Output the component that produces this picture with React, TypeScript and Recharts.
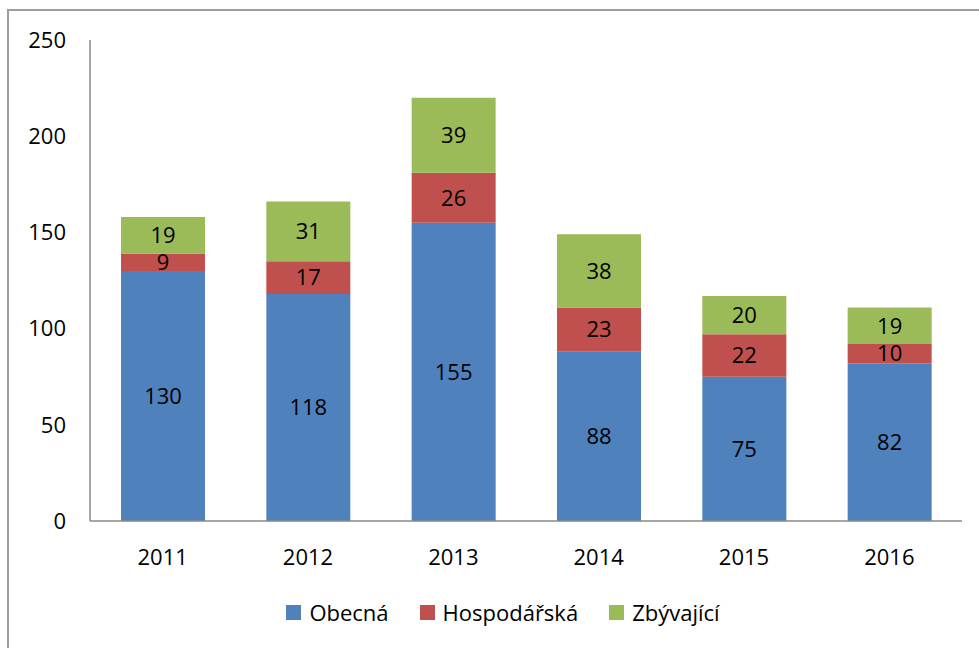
import { BarChart, Bar, XAxis, YAxis, Legend, LabelList } from "recharts";

const years = ["2011", "2012", "2013", "2014", "2015", "2016"];
const obecna = [130, 118, 155, 88, 75, 82];
const hospodarska = [9, 17, 26, 23, 22, 10];
const zbyvajici = [19, 31, 39, 38, 20, 19];
const yTicks = [0, 50, 100, 150, 200, 250];

const series = [
  { key: "obecna", name: "Obecná", color: "#4F81BD" },
  { key: "hospodarska", name: "Hospodářská", color: "#C0504D" },
  { key: "zbyvajici", name: "Zbývající", color: "#9BBB59" },
];

const data = years.map((year, i) => ({
  year,
  obecna: obecna[i],
  hospodarska: hospodarska[i],
  zbyvajici: zbyvajici[i],
}));

const FONT = "'Open Sans', sans-serif";

function LegendContent() {
  return (
    <div
      style={{
        display: "flex",
        justifyContent: "center",
        alignItems: "center",
        paddingLeft: 44,
        fontFamily: FONT,
        fontSize: 22,
        color: "#000",
        height: 30,
      }}
    >
      {series.map((s, i) => (
        <span
          key={s.key}
          style={{ display: "inline-flex", alignItems: "center", marginLeft: i === 0 ? 0 : 31 }}
        >
          <span style={{ width: 15, height: 15, background: s.color, marginRight: 8, display: "inline-block" }} />
          {s.name}
        </span>
      ))}
    </div>
  );
}

export default function App() {
  return (
    <div style={{ position: "absolute", left: 0, top: 0, width: 979, height: 648, overflow: "hidden", background: "#fff" }}>
      <div
        style={{
          position: "absolute",
          left: 7,
          top: 9,
          width: 1000,
          height: 700,
          border: "2px solid #9d9d9d",
          boxSizing: "border-box",
        }}
      />
      <div style={{ position: "absolute", left: 0, top: 0 }}>
        <BarChart width={979} height={648} data={data} margin={{ top: 40, right: 17, left: 0, bottom: 21 }}>
          <XAxis
            dataKey="year"
            height={76}
            axisLine={{ stroke: "#888888", strokeWidth: 1.5 }}
            tickLine={false}
            tickMargin={22}
            tick={{ fill: "#000", fontSize: 22, fontFamily: FONT }}
          />
          <YAxis
            width={90}
            domain={[0, 250]}
            ticks={yTicks}
            axisLine={{ stroke: "#888888", strokeWidth: 1.5 }}
            tickLine={false}
            tickMargin={18}
            tick={{ fill: "#000", fontSize: 22, fontFamily: FONT }}
          />
          <Legend verticalAlign="bottom" height={30} content={<LegendContent />} />
          {series.map((s) => (
            <Bar key={s.key} dataKey={s.key} name={s.name} stackId="a" fill={s.color} barSize={84} isAnimationActive={false}>
              <LabelList dataKey={s.key} position="center" fill="#000" fontSize={22} fontFamily={FONT} />
            </Bar>
          ))}
        </BarChart>
      </div>
    </div>
  );
}
